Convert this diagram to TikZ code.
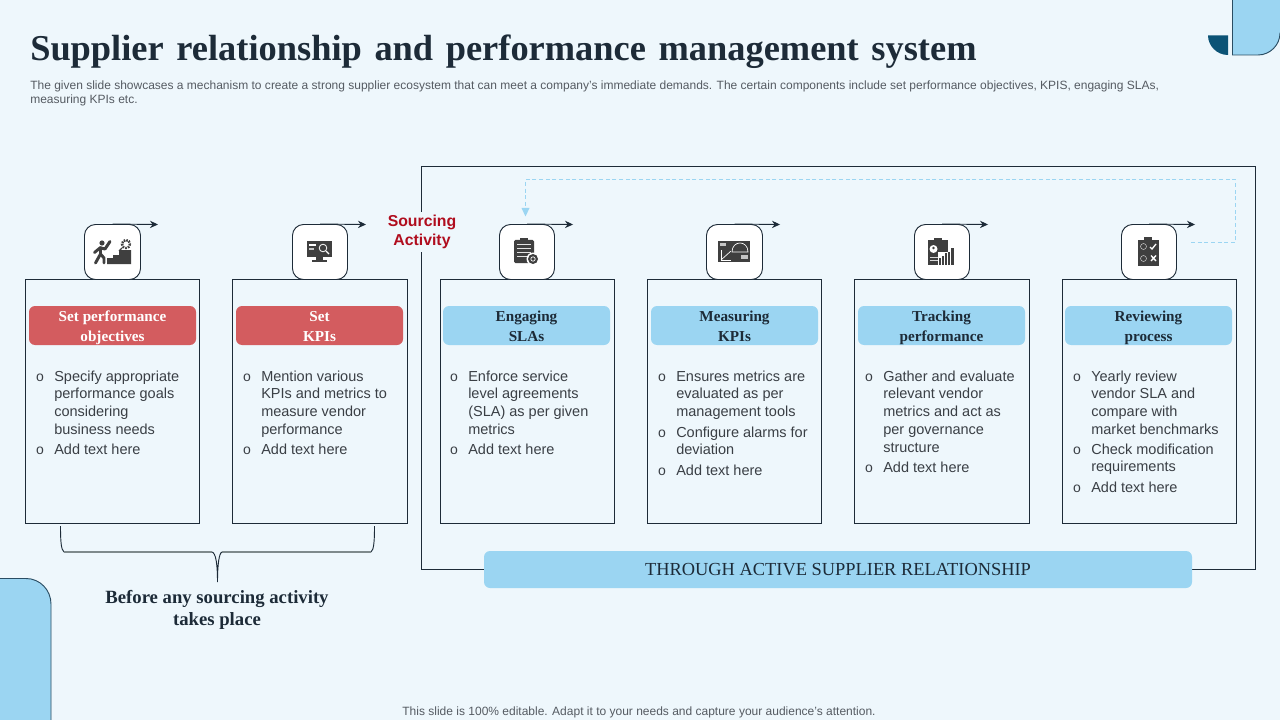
\documentclass[tikz,border=0pt]{standalone}
\usepackage{fontspec}
\setmainfont{Liberation Sans}
\newfontfamily\serifb[BoldFont={Liberation Serif Bold}]{Liberation Serif}
\usetikzlibrary{arrows.meta,calc}
\definecolor{bgc}{HTML}{EEF7FC}
\definecolor{lblue}{HTML}{9BD5F2}
\definecolor{redh}{HTML}{D35C5F}
\definecolor{navy}{HTML}{1D2B38}
\definecolor{teal}{HTML}{0B5376}
\definecolor{edgeb}{HTML}{2A4D63}
\definecolor{srcred}{HTML}{B00D1E}
\definecolor{bodyc}{HTML}{3A3F45}
\definecolor{subc}{HTML}{555B62}
\definecolor{ic}{HTML}{3F3F3F}
\definecolor{bracec}{HTML}{7F8A8C}
\newlength{\pxu}\setlength{\pxu}{0.75pt}
\newlength{\titlegap}\setlength{\titlegap}{9.5pt}
\newcommand{\fs}[2]{\fontsize{#1\pxu}{#2\pxu}\selectfont}
\newcommand{\hd}[2]{\smash{#1}\rule{0pt}{14.4\pxu}\\\smash{#2}\rule[-2\pxu]{0pt}{2\pxu}}
\tikzset{
  x=0.75pt,y=-0.75pt,
  cardbox/.style={draw=navy,line width=0.7pt,inner sep=0,minimum height=244*\pxu},
  iconbox/.style={draw=navy,fill=white,line width=0.7pt,rounded corners=11*\pxu,inner sep=0,minimum height=55*\pxu},
  headbox/.style={rounded corners=6*\pxu,inner sep=0,minimum height=39*\pxu,minimum width=167*\pxu,align=center,font=\serifb\bfseries\fs{15.2}{20}},
  headred/.style={headbox,fill=redh,text=white},
  headblue/.style={headbox,fill=lblue,text=navy},
  bodytxt/.style={anchor=north west,inner sep=0,align=left,text=bodyc,font=\fs{14.5}{17.7}},
  bul/.style={anchor=center,inner sep=0,text=bodyc,font=\fs{14}{14}},
  flow/.style={-{Stealth[length=6pt,width=5.5pt]},draw=navy,line width=0.7pt},
  loopline/.style={draw=lblue,line width=0.55pt,densely dashed},
}
\newcommand{\bt}[4]{%
  \node[bul] (#4b) at (#1,#2+2) {o};
  \node[bodytxt] (#4t) at (#1+14,#2-5.5) {#3};
}
\begin{document}
\begin{tikzpicture}
\useasboundingbox (0,0) rectangle (1280,720);
\fill[bgc] (0,0) rectangle (1280,720);
% decoration
\draw[fill=lblue,draw=edgeb,line width=0.7pt] (1232.5,-2) -- (1232.5,55) -- (1258,55) .. controls (1270,55) and (1280,45) .. (1280,33) -- (1282,33) -- (1282,-2) -- cycle;
\fill[teal] (1208,35.5) -- (1228,35.5) -- (1228,55) .. controls (1217,55) and (1208,46) .. (1208,35.5) -- cycle;
\draw[fill=lblue,draw=edgeb,line width=0.7pt] (-2,578.5) -- (26,578.5) .. controls (40,578.5) and (51,590) .. (51,604) -- (51,722) -- (-2,722) -- cycle;
% title
\node[anchor=west,inner sep=0,text=navy,font=\serifb\bfseries\fs{36.4}{40}] (title) at (30,52) {\spaceskip=\titlegap\relax Supplier relationship and performance management system};
\node[anchor=north west,inner sep=0,align=left,text=subc,font=\fs{12}{14.5}] (sub) at (30,80.5) {The given slide showcases a mechanism to create a strong supplier ecosystem that can meet a company's immediate demands. The certain components include set performance objectives, KPIS, engaging SLAs,\\measuring KPIs etc.};
\node[anchor=center,inner sep=0,text=subc,font=\fs{12}{14}] (foot) at (639,712.5) {This slide is 100\% editable. Adapt it to your needs and capture your audience's attention.};
% frame
\draw[navy,line width=0.7pt] (421.5,166.5) rectangle (1255.5,569.5);
\node[fill=bgc,inner sep=2pt,align=center,text=srcred,font=\bfseries\fs{15.8}{19}] (src) at (422,232) {Sourcing\\Activity};
\node[fill=lblue,rounded corners=6*\pxu,inner sep=0,minimum width=708*\pxu,minimum height=37*\pxu,text=navy,font=\serifb\fs{18.4}{20}] (band) at (838,569.5) {THROUGH ACTIVE SUPPLIER RELATIONSHIP};
% cards
\node[cardbox,minimum width=174*\pxu] (c1) at (112.5,401.5) {};
\node[cardbox,minimum width=175*\pxu] (c2) at (320,401.5) {};
\node[cardbox,minimum width=174*\pxu] (c3) at (527.5,401.5) {};
\node[cardbox,minimum width=174*\pxu] (c4) at (734.5,401.5) {};
\node[cardbox,minimum width=175*\pxu] (c5) at (942,401.5) {};
\node[cardbox,minimum width=174*\pxu] (c6) at (1149.5,401.5) {};
% icon boxes
\node[iconbox,minimum width=56*\pxu] (i1) at (112.5,252) {};
\node[iconbox,minimum width=55*\pxu] (i2) at (320,252) {};
\node[iconbox,minimum width=55*\pxu] (i3) at (527,252) {};
\node[iconbox,minimum width=56*\pxu] (i4) at (734.5,252) {};
\node[iconbox,minimum width=55*\pxu] (i5) at (942,252) {};
\node[iconbox,minimum width=55*\pxu] (i6) at (1149,252) {};
% connectors
\coordinate (a1) at (158,224.5);\coordinate (a2) at (366,224.5);\coordinate (a3) at (573,224.5);
\coordinate (a4) at (780,224.5);\coordinate (a5) at (988,224.5);\coordinate (a6) at (1195,224.5);
\foreach \k in {1,...,6}{\draw[flow] (i\k.north) -- (a\k);}
\coordinate (ls) at (1191,242.5);\coordinate (le) at (525.5,216.5);
\draw[loopline] (ls) -- (1235.5,242.5) -- (1235.5,179.5) -- (525.5,179.5) -- (525.5,208);
\fill[lblue] (le) -- (521.5,208) -- (529.5,208) -- cycle;
% headers
\node[headred] (h1) at (112.5,325.5) {\hd{Set performance}{objectives}};
\node[headred] (h2) at (319.5,325.5) {\hd{Set}{KPIs}};
\node[headblue] (h3) at (526.5,325.5) {\hd{Engaging}{SLAs}};
\node[headblue] (h4) at (734.5,325.5) {\hd{Measuring}{KPIs}};
\node[headblue] (h5) at (941.5,325.5) {\hd{Tracking}{performance}};
\node[headblue] (h6) at (1148.5,325.5) {\hd{Reviewing}{process}};
% body
\bt{40}{376}{Specify appropriate\\performance goals\\considering\\business needs}{p1}
\bt{40}{449}{Add text here}{p2}
\bt{247}{376}{Mention various\\KPIs and metrics to\\measure vendor\\performance}{q1}
\bt{247}{449}{Add text here}{q2}
\bt{454}{376}{Enforce service\\level agreements\\(SLA) as per given\\metrics}{r1}
\bt{454}{449}{Add text here}{r2}
\bt{662}{376}{Ensures metrics are\\evaluated as per\\management tools}{s1}
\bt{662}{432}{Configure alarms for\\deviation}{s2}
\bt{662}{470}{Add text here}{s3}
\bt{869}{376}{Gather and evaluate\\relevant vendor\\metrics and act as\\per governance\\structure}{t1}
\bt{869}{467}{Add text here}{t2}
\bt{1077}{376}{Yearly review\\vendor SLA and\\compare with\\market benchmarks}{u1}
\bt{1077}{449}{Check modification\\requirements}{u2}
\bt{1077}{487}{Add text here}{u3}
% brace
\draw[navy,line width=0.7pt] (60.5,526) .. controls (60.5,540) and (61,550) .. (64,552);
\draw[navy,line width=0.7pt] (374.5,526) .. controls (374.5,540) and (374,550) .. (371,552);
\draw[bracec,line width=1.2pt] (64,552) -- (212,552);
\draw[bracec,line width=1.2pt] (222,552) -- (371,552);
\draw[navy,line width=0.7pt] (212,552) .. controls (216,553) and (217.5,565) .. (217.5,582) .. controls (217.5,565) and (219,553) .. (222,552);
\node[inner sep=0,align=center,text=navy,font=\serifb\bfseries\fs{18.7}{22}] (before) at (217,610) {Before any sourcing activity\\takes place};
% icon 1: person, stairs, gear
\fill[ic] (102,243) circle (2.6);
\draw[ic,line width=2.2pt,line cap=round,line join=round] (101,248) -- (105,249) -- (110,241.5);
\draw[ic,line width=2.2pt,line cap=round,line join=round] (94.5,252.5) -- (100.5,247.5) -- (100.5,254) -- (104,258) -- (104,263);
\draw[ic,line width=2.2pt,line cap=round,line join=round] (100.5,254) -- (95.5,263);
\fill[ic] (107,264) -- (107,258) -- (113,258) -- (113,255) -- (119,255) -- (119,250) -- (131,250) -- (131,264) -- cycle;
\draw[ic,line width=1.8pt,dash pattern=on 1.2pt off 0.8pt] (126,244) circle (4);
\draw[ic,line width=0.8pt] (122,248) -- (119,251);
% icon 2: monitor
\fill[ic] (307,241) rectangle (332,257);
\fill[ic] (316,257) rectangle (323,260);
\fill[ic] (312,260) rectangle (327,262);
\fill[white] (309,244) rectangle (316,246);
\fill[white!70!ic] (309,248) rectangle (314,250);
\draw[white,line width=0.6pt] (323,248) circle (3.8);
\draw[white,line width=1pt] (326,251) -- (329,254);
% icon 3: clipboard + gear
\fill[ic,rounded corners=1pt] (514,240) rectangle (534,263);
\fill[ic] (520,238) rectangle (528,241);
\foreach \yy in {244,248,252,256}{\draw[white!85!ic,line width=0.5pt] (517,\yy) -- (531,\yy);}
\fill[white] (533,259) circle (6.5);
\fill[ic] (533,259) circle (5);
\draw[white,line width=0.5pt] (533,259) circle (2.2);
% icon 4: dashboard
\fill[ic] (718,241) rectangle (750,262);
\fill[white!70!ic] (720,243) rectangle (726,246);
\fill[white!70!ic] (741,255) rectangle (748,259);
\draw[white,line width=0.5pt] (732,252) .. controls (732,240) and (748,240) .. (748,252) -- cycle;
\draw[white,line width=0.5pt] (721,260) -- (731,251);
\draw[white,line width=0.5pt] (721,250) -- (721,260) -- (731,260);
% icon 5: clipboard + bars
\fill[ic] (928,240) rectangle (948,265);
\fill[ic] (934,238) rectangle (942,241);
\fill[white] (933.5,249) circle (4);
\fill[ic] (933.5,248) circle (1.4);
\foreach \yy in {257,260}{\draw[white!80!ic,line width=0.4pt] (930,\yy) -- (938,\yy);}
\fill[white] (938,265) rectangle (948,252);
\fill[ic] (939,265) rectangle (941,258);
\fill[ic] (942,265) rectangle (944,256);
\fill[ic] (945,265) rectangle (947,253);
\fill[ic] (948,265) rectangle (950,252);
\fill[ic] (951,265) rectangle (954,248);
% icon 6: clipboard check/x
\fill[ic] (1138,240) rectangle (1159,266);
\fill[ic] (1144,237) rectangle (1152,241);
\draw[white!70!ic,line width=0.4pt] (1143.5,246.5) circle (3);
\draw[white!70!ic,line width=0.4pt] (1143.5,258.5) circle (3);
\draw[white,line width=1pt] (1150,247) -- (1152,249) -- (1156,244);
\draw[white,line width=1pt] (1151,255.5) -- (1156,261) (1156,255.5) -- (1151,261);
\end{tikzpicture}
\end{document}
